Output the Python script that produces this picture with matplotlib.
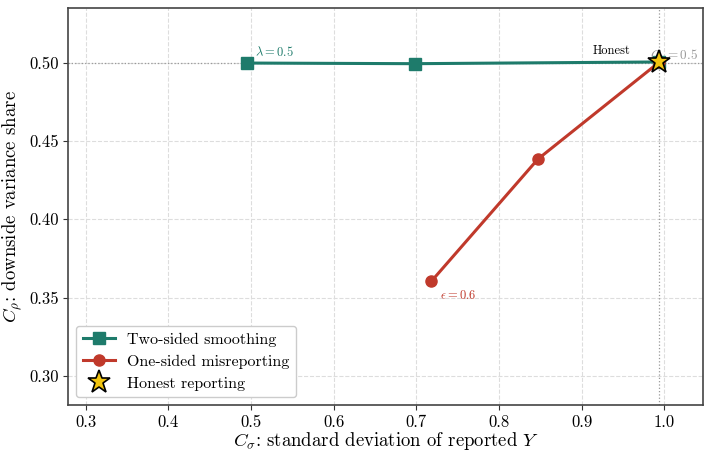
import matplotlib
matplotlib.use("Agg")
import matplotlib.pyplot as plt

plt.rcParams['font.family'] = 'serif'
plt.rcParams['font.serif'] = ['cmr10', 'DejaVu Serif']
plt.rcParams['mathtext.fontset'] = 'cm'
plt.rcParams['axes.formatter.use_mathtext'] = True
plt.rcParams['axes.unicode_minus'] = False

# Data
two_sided_x = [0.495, 0.698, 0.994]
two_sided_y = [0.4999, 0.4995, 0.5006]
one_sided_x = [0.718, 0.847, 0.994]
one_sided_y = [0.3603, 0.4385, 0.5006]
honest_x = [0.994]
honest_y = [0.5006]

teal = '#1e7b6b'
red = '#c0392b'
gold = '#f1c40f'

fig, ax = plt.subplots(figsize=(7.04, 4.53), dpi=100)
fig.subplots_adjust(left=0.097, right=0.999, top=0.982, bottom=0.105)

ax.axhline(0.5, color='#999999', ls=':', lw=0.9, zorder=1)
ax.axvline(honest_x[0], color='#999999', ls=':', lw=0.9, zorder=1)

ax.plot(two_sided_x, two_sided_y, '-s', color=teal, lw=2.2, ms=8,
        label='Two-sided smoothing', zorder=3)
ax.plot(one_sided_x, one_sided_y, '-o', color=red, lw=2.2, ms=8,
        label='One-sided misreporting', zorder=3)
ax.plot(honest_x, honest_y, '*', color=gold, mec='black', mew=1.2, ms=17,
        ls='none', label='Honest reporting', zorder=5)

ax.annotate(r'$\lambda=0.5$', (two_sided_x[0], two_sided_y[0]),
            xytext=(6, 5), textcoords='offset points', color=teal, fontsize=9)
ax.annotate(r'$\epsilon=0.6$', (one_sided_x[0], one_sided_y[0]),
            xytext=(6, -13), textcoords='offset points', color=red, fontsize=9)
ax.annotate('Honest', (honest_x[0], honest_y[0]),
            xytext=(-48, 6), textcoords='offset points', color='black', fontsize=9)
ax.text(honest_x[0] - 0.012, 0.5 + 0.0023, r'$C_\rho=0.5$', color='#999999',
        fontsize=9.5, zorder=2)

ax.set_xlim(0.279, 1.047)
ax.set_ylim(0.281, 0.535)
ax.set_xticks([0.3, 0.4, 0.5, 0.6, 0.7, 0.8, 0.9, 1.0])
ax.set_yticks([0.30, 0.35, 0.40, 0.45, 0.50])
ax.set_xticklabels(['0.3', '0.4', '0.5', '0.6', '0.7', '0.8', '0.9', '1.0'])
ax.set_yticklabels(['0.30', '0.35', '0.40', '0.45', '0.50'])
ax.tick_params(labelsize=12, color='#333333', pad=3)

ax.grid(True, ls='--', color='#dddddd', lw=0.8)
ax.set_axisbelow(True)
for s in ax.spines.values():
    s.set_color('#444444')
    s.set_linewidth(1.2)

ax.set_xlabel(r'$C_\sigma$: standard deviation of reported $Y$', fontsize=13.5, labelpad=0)
ax.set_ylabel(r'$C_\rho$: downside variance share', fontsize=13.5, labelpad=4)

leg = ax.legend(loc='lower left', fontsize=11.5, frameon=True, fancybox=True,
                edgecolor='#cccccc', framealpha=1.0)

fig.savefig('out.png', dpi=100)
